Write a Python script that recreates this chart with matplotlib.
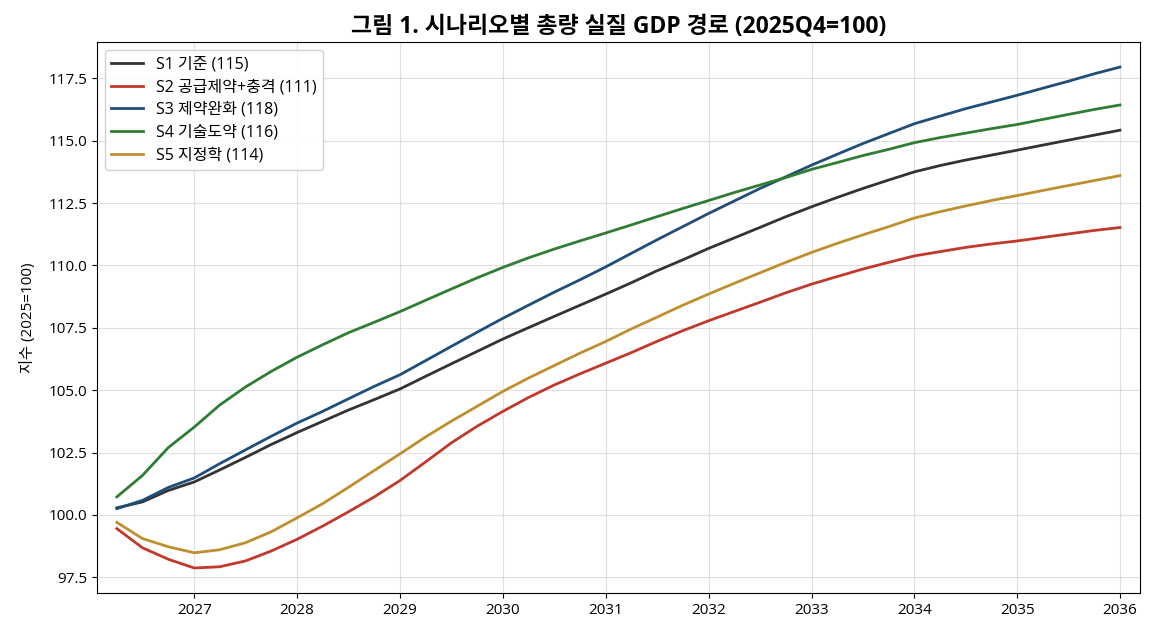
import matplotlib
matplotlib.use("Agg")
import matplotlib.pyplot as plt
import matplotlib.dates as mdates
import pandas as pd

plt.rcParams['font.family'] = ['Open Sans', 'Noto Sans CJK KR', 'DejaVu Sans']
plt.rcParams['axes.unicode_minus'] = False

quarters = pd.period_range('2026Q1', '2035Q4', freq='Q').to_timestamp(how='end')

s1 = [100.28, 100.52, 100.98, 101.32, 101.80, 102.30, 102.82, 103.30, 103.75, 104.20,
      104.62, 105.05, 105.55, 106.05, 106.55, 107.05, 107.50, 107.95, 108.40, 108.85,
      109.30, 109.78, 110.22, 110.68, 111.10, 111.52, 111.95, 112.35, 112.72, 113.08,
      113.42, 113.75, 114.00, 114.22, 114.42, 114.62, 114.82, 115.02, 115.22, 115.42]
s2 = [99.45, 98.68, 98.22, 97.87, 97.92, 98.15, 98.55, 99.02, 99.55, 100.12,
      100.72, 101.38, 102.12, 102.88, 103.55, 104.15, 104.70, 105.20, 105.65, 106.08,
      106.50, 106.95, 107.38, 107.78, 108.15, 108.52, 108.90, 109.25, 109.55, 109.85,
      110.12, 110.38, 110.55, 110.72, 110.86, 110.98, 111.12, 111.26, 111.40, 111.52]
s3 = [100.25, 100.58, 101.10, 101.48, 102.05, 102.60, 103.15, 103.68, 104.15, 104.65,
      105.15, 105.62, 106.18, 106.75, 107.32, 107.88, 108.40, 108.92, 109.42, 109.94,
      110.48, 111.02, 111.55, 112.08, 112.58, 113.08, 113.55, 114.02, 114.45, 114.88,
      115.28, 115.68, 115.98, 116.28, 116.55, 116.82, 117.10, 117.38, 117.68, 117.95]
s4 = [100.72, 101.58, 102.70, 103.52, 104.40, 105.12, 105.75, 106.32, 106.82, 107.30,
      107.72, 108.15, 108.60, 109.05, 109.50, 109.92, 110.30, 110.65, 110.98, 111.30,
      111.62, 111.95, 112.28, 112.60, 112.92, 113.22, 113.52, 113.85, 114.12, 114.40,
      114.65, 114.92, 115.12, 115.30, 115.48, 115.65, 115.85, 116.05, 116.25, 116.43]
s5 = [99.70, 99.05, 98.72, 98.48, 98.60, 98.88, 99.32, 99.88, 100.45, 101.10,
      101.78, 102.45, 103.12, 103.75, 104.35, 104.95, 105.48, 105.98, 106.48, 106.95,
      107.45, 107.92, 108.40, 108.85, 109.28, 109.70, 110.12, 110.52, 110.88, 111.22,
      111.55, 111.90, 112.15, 112.38, 112.60, 112.80, 113.00, 113.20, 113.40, 113.60]

labels = ['S1 기준 (115)', 'S2 공급제약+충격 (111)', 'S3 제약완화 (118)',
          'S4 기술도약 (116)', 'S5 지정학 (114)']
colors = ['#333333', '#c0392b', '#1f4e79', '#2e7d32', '#bf8f2f']
series = [s1, s2, s3, s4, s5]

fig, ax = plt.subplots(figsize=(11.52, 6.37), dpi=100)
fig.subplots_adjust(left=0.084, right=0.9896, top=0.934, bottom=0.069)

for ys, lab, col in zip(series, labels, colors):
    ax.plot(quarters, ys, color=col, lw=2.0, label=lab)

ax.margins(x=0.02, y=0.05)
ax.xaxis.set_major_locator(mdates.YearLocator())
ax.xaxis.set_major_formatter(mdates.DateFormatter('%Y'))
ax.yaxis.set_major_locator(plt.MultipleLocator(2.5))
ax.yaxis.set_major_formatter(plt.FormatStrFormatter('%.1f'))
ax.grid(True, color='#cccccc', alpha=0.6, lw=0.8)
ax.tick_params(labelsize=11)
ax.set_ylabel('지수 (2025=100)', fontsize=11, labelpad=9)
ax.set_title('그림 1. 시나리오별 총량 실질 GDP 경로 (2025Q4=100)', fontsize=16.5, fontweight='bold', pad=7)
ax.legend(loc='upper left', fontsize=11.5, framealpha=0.9, labelspacing=0.42)

fig.savefig('out.png', dpi=100)
